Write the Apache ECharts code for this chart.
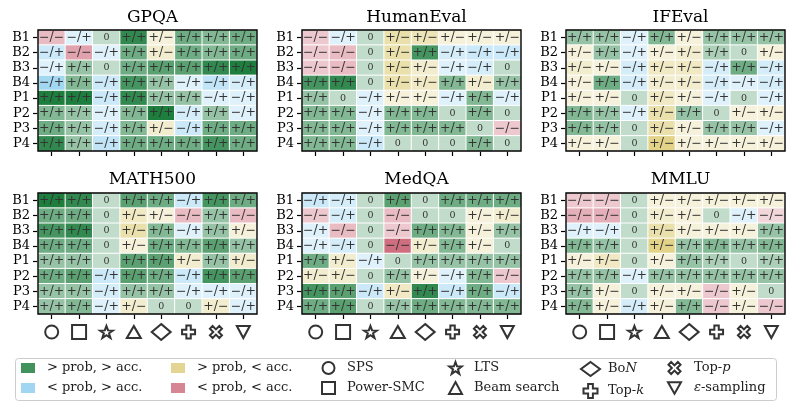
<!DOCTYPE html>
<html>
<head>
<meta charset="utf-8">
<script src="https://cdn.jsdelivr.net/npm/echarts@6/dist/echarts.min.js"></script>
<style>
  html, body { margin: 0; padding: 0; background: #fff; }
  #main { width: 792px; height: 408px; }
</style>
</head>
<body>
<div id="main"></div>
<script>
// categories
var methods = ['SPS', 'Power-SMC', 'LTS', 'Beam search', 'BoN', 'Top-k', 'Top-p', 'ε-sampling']
var settings = ['B1', 'B2', 'B3', 'B4', 'P1', 'P2', 'P3', 'P4']
var datasets = ['GPQA', 'HumanEval', 'IFEval', 'MATH500', 'MedQA', 'MMLU']

// sign of (prob / acc.) change per cell, rows = settings, cols = methods
var gpqaSign = [
  ['-/-', '-/+', '0', '+/+', '+/-', '+/+', '+/+', '+/+'],
  ['-/+', '-/-', '-/+', '+/+', '+/-', '+/+', '+/+', '+/+'],
  ['-/+', '+/+', '0', '+/+', '+/+', '+/+', '+/+', '+/+'],
  ['-/+', '+/+', '-/+', '+/+', '+/+', '-/+', '-/+', '-/+'],
  ['+/+', '+/+', '-/+', '+/+', '+/+', '+/+', '-/+', '-/+'],
  ['+/+', '+/+', '-/+', '+/+', '+/+', '-/+', '+/+', '-/+'],
  ['+/+', '+/+', '-/+', '+/+', '+/-', '-/+', '+/+', '+/+'],
  ['+/+', '+/+', '-/+', '+/+', '+/+', '+/+', '+/+', '+/+']
]
// strength of the change (shade), 0..5
var gpqaLevel = [
  [2, 1, 0, 4.5, 1, 3, 2.5, 3],
  [2, 3, 1, 3, 1.5, 3, 2.5, 3],
  [1, 2, 0, 3, 3.5, 3.5, 4.5, 5],
  [4, 2.5, 2, 4, 2, 1, 2.5, 1.5],
  [5, 5, 2, 4.5, 2, 2, 1, 1],
  [2.5, 2, 1, 2.5, 5, 1.5, 2, 1],
  [3, 2, 1.5, 2.5, 1.5, 2, 3, 3],
  [4.5, 2, 2.5, 3, 3, 3, 4, 3]
]

var humanevalSign = [
  ['-/-', '-/+', '0', '+/-', '+/-', '+/-', '+/-', '+/-'],
  ['-/-', '-/-', '0', '+/-', '+/+', '-/+', '-/+', '-/+'],
  ['-/-', '-/-', '0', '+/-', '+/-', '-/+', '-/+', '0'],
  ['+/+', '+/+', '0', '+/-', '+/-', '+/+', '+/-', '+/+'],
  ['+/+', '0', '-/+', '+/-', '+/-', '-/+', '+/+', '-/+'],
  ['+/+', '+/+', '-/+', '+/+', '+/+', '0', '+/+', '0'],
  ['+/+', '+/+', '-/+', '+/+', '+/+', '+/+', '0', '-/-'],
  ['+/+', '+/+', '-/+', '0', '0', '0', '+/+', '0']
]
var humanevalLevel = [
  [1.5, 1, 0, 3, 2.5, 1, 1, 1],
  [1.5, 2, 0, 3, 4, 1.5, 2, 2],
  [1.5, 2, 0, 3, 1.5, 1, 1.5, 0],
  [4, 4.5, 0, 3, 2, 2.5, 1.5, 2],
  [2, 0, 1, 1, 1, 1, 2.5, 1],
  [2.5, 2.5, 1, 2.5, 2.5, 0, 2.5, 0],
  [2.5, 2.5, 1, 2.5, 2.5, 2.5, 0, 1.5],
  [2.5, 2.5, 2, 0, 0, 0, 2.5, 0]
]

var ifevalSign = [
  ['+/+', '+/+', '-/+', '+/+', '+/-', '+/+', '+/+', '+/+'],
  ['+/-', '+/+', '-/+', '+/-', '+/-', '+/+', '0', '+/-'],
  ['+/-', '+/-', '-/+', '+/-', '+/-', '-/+', '+/+', '-/+'],
  ['+/-', '+/+', '-/+', '+/-', '+/-', '-/+', '-/+', '-/+'],
  ['+/-', '+/-', '0', '+/-', '+/-', '-/+', '0', '-/+'],
  ['+/+', '+/+', '-/+', '+/-', '+/+', '0', '+/-', '+/-'],
  ['+/+', '+/+', '0', '+/-', '+/-', '+/+', '+/+', '-/+'],
  ['+/-', '+/-', '0', '+/-', '+/-', '+/-', '+/-', '+/-']
]
var ifevalLevel = [
  [2, 2, 1, 2.5, 1, 2, 2, 2],
  [1, 2, 1, 1, 1.5, 1.5, 0, 1],
  [1.5, 1, 1.5, 2, 2, 1.5, 3, 1.5],
  [1, 3, 1.5, 1.5, 1.5, 1.5, 1, 1.5],
  [1, 1, 0, 2, 1, 1, 0, 1],
  [2.5, 2, 1, 3, 2, 0, 1, 1],
  [2.5, 2, 0, 3, 1, 2, 2, 1],
  [1, 1, 0, 4.5, 1, 1, 1, 1]
]

var mathSign = [
  ['+/+', '+/+', '0', '+/+', '+/+', '-/+', '+/+', '+/+'],
  ['+/+', '+/+', '0', '+/-', '+/-', '-/-', '+/+', '-/-'],
  ['+/+', '+/+', '0', '+/-', '+/+', '-/+', '+/+', '+/-'],
  ['+/+', '+/+', '0', '+/-', '+/+', '+/+', '+/+', '+/+'],
  ['+/+', '+/+', '0', '+/+', '+/+', '+/-', '+/+', '+/-'],
  ['+/+', '+/+', '-/+', '+/+', '+/+', '-/+', '+/+', '+/+'],
  ['+/+', '+/+', '-/+', '+/+', '+/+', '-/+', '-/+', '-/+'],
  ['+/+', '+/+', '-/+', '+/-', '0', '0', '+/-', '-/+']
]
var mathLevel = [
  [5, 4.5, 0, 3.5, 3, 2, 4, 3],
  [3, 3, 0, 2, 1, 2, 2, 2],
  [4, 4.5, 0, 3, 2.5, 1, 2, 1],
  [3, 3, 0, 1, 3, 2.5, 3.5, 2],
  [2, 2, 0, 3.5, 3.5, 1.5, 2, 1.5],
  [3, 3.5, 2, 3.5, 3, 2, 4, 3.5],
  [2, 2, 1.5, 2, 2, 1, 1, 1],
  [2, 2.5, 1, 1.5, 0, 0, 1.5, 1]
]

var medqaSign = [
  ['-/+', '-/+', '0', '+/+', '0', '+/+', '+/+', '+/+'],
  ['-/-', '-/+', '0', '-/-', '0', '0', '+/-', '+/-'],
  ['-/+', '-/-', '0', '-/-', '+/+', '+/+', '+/-', '+/+'],
  ['-/+', '-/+', '0', '-/-', '+/-', '+/+', '+/-', '0'],
  ['+/+', '+/-', '-/+', '0', '+/+', '+/+', '+/+', '+/+'],
  ['+/-', '+/-', '0', '+/+', '+/-', '-/+', '+/+', '-/-'],
  ['+/+', '+/+', '-/+', '+/-', '+/+', '-/+', '+/+', '-/+'],
  ['+/+', '+/+', '0', '+/+', '+/+', '+/+', '+/+', '+/+']
]
var medqaLevel = [
  [2, 1.5, 0, 3.5, 0, 3, 3, 3],
  [1.5, 1.5, 0, 2, 0, 0, 1, 1.5],
  [1, 2, 0, 1.5, 3, 2.5, 1, 2],
  [1, 1.5, 0, 5, 1.5, 2.5, 1, 0],
  [3, 1.5, 1, 0, 2, 2, 2, 2],
  [1.5, 1.5, 0, 2, 1, 1, 2.5, 1.5],
  [4, 3.5, 2, 2, 4.5, 2, 3, 2],
  [3, 3.5, 0, 2, 3, 2.5, 2.5, 2.5]
]

var mmluSign = [
  ['-/-', '-/-', '0', '+/-', '+/-', '+/-', '+/-', '+/-'],
  ['-/-', '-/-', '0', '+/-', '+/-', '0', '-/+', '-/-'],
  ['-/+', '-/+', '0', '+/-', '+/-', '+/-', '+/-', '+/+'],
  ['+/+', '+/+', '0', '+/-', '+/+', '+/+', '+/+', '+/+'],
  ['+/-', '+/-', '0', '+/-', '+/+', '+/+', '0', '+/+'],
  ['+/+', '+/+', '-/+', '+/+', '+/+', '+/+', '+/+', '+/+'],
  ['+/+', '+/-', '0', '+/-', '+/-', '-/-', '+/-', '0'],
  ['+/+', '+/-', '-/+', '+/-', '+/+', '-/-', '+/-', '-/-']
]
var mmluLevel = [
  [1.5, 1.5, 0, 1, 1, 1, 1, 1],
  [2.5, 2.5, 0, 1.5, 1, 0, 1, 1],
  [1, 1, 0, 3, 1, 1, 1, 2],
  [2.5, 2, 0, 4.5, 2, 2.5, 2, 2.5],
  [1, 2, 0, 1, 2, 1.5, 0, 1.5],
  [2, 2, 1, 2, 2, 2, 2, 2],
  [2, 1, 0, 1, 1, 1.5, 1, 0],
  [2.5, 1, 1.5, 1, 2.5, 1.5, 1, 1.5]
]

var signs = [gpqaSign, humanevalSign, ifevalSign, mathSign, medqaSign, mmluSign]
var levels = [gpqaLevel, humanevalLevel, ifevalLevel, mathLevel, medqaLevel, mmluLevel]

var SERIF = 'DejaVu Serif'
var baseColor = {
  '+/+': [17, 119, 51],
  '-/+': [136, 204, 238],
  '+/-': [221, 204, 119],
  '-/-': [204, 102, 119],
  '0': [17, 119, 51]
}
var legendNames = ['> prob, > acc.', '< prob, > acc.', '> prob, < acc.', '< prob, < acc.']
var legendKeys = ['+/+', '-/+', '+/-', '-/-']

// marker for each method (below the axes and in the legend)
var starPath = 'path://M50,2 L62,36 L98,37 L69,59 L80,95 L50,74 L20,95 L31,59 L2,37 L38,36 Z'
var plusPath = 'path://M33,0 H67 V33 H100 V67 H67 V100 H33 V67 H0 V33 H33 Z'
var crossPath = 'path://M22,0 L50,28 L78,0 L100,22 L72,50 L100,78 L78,100 L50,72 L22,100 L0,78 L28,50 L0,22 Z'
var downTri = 'path://M0,0 L100,0 L50,88 Z'
var methodSymbol = ['circle', 'rect', starPath, 'triangle', 'diamond', plusPath, crossPath, downTri]
var methodSymbolSize = [[13, 13], [14, 14], [13, 12], [14, 12], [19, 16], [13, 13], [12, 12], [13, 12]]

function cellColor(sign, level) {
  var c = baseColor[sign]
  var a = sign === '0' ? 0.26 : Math.min(0.95, 0.1 + level * 0.17)
  var mix = c.map(function(v) { return Math.round(255 - a * (255 - v)) })
  return 'rgb(' + mix.join(',') + ')'
}

var panelLeft = [38, 302, 566]
var panelTop = [30, 193]
var W = 219
var H = 121

var grids = []
var xAxes = []
var yAxes = []
var series = []
var titles = []

datasets.forEach(function(name, k) {
  var col = k % 3
  var row = Math.floor(k / 3)
  var left = panelLeft[col]
  var top = panelTop[row]
  grids.push({ left: left, top: top, width: W, height: H, show: true, borderColor: '#000', borderWidth: 1.4, z: 10 })
  xAxes.push({
    type: 'category', gridIndex: k, data: methods,
    axisLabel: { show: false, interval: 0 },
    axisLine: { show: false },
    axisTick: { show: true, interval: 0, alignWithLabel: true, length: 5, lineStyle: { color: '#000', width: 1.2 } },
    splitLine: { show: false }
  })
  yAxes.push({
    type: 'category', gridIndex: k, data: settings, inverse: true,
    axisLabel: { interval: 0, fontFamily: SERIF, fontSize: 13, color: '#000', margin: 8 },
    axisLine: { show: false },
    axisTick: { show: true, interval: 0, alignWithLabel: true, length: 5, lineStyle: { color: '#000', width: 1.2 } },
    splitLine: { show: false }
  })
  titles.push({
    text: name, left: left + W / 2, top: row ? 166 : 4, textAlign: 'center',
    textStyle: { fontFamily: SERIF, fontSize: 17, fontWeight: 'normal', color: '#000' }
  })
  var data = []
  for (var r = 0; r < settings.length; r++) {
    for (var c = 0; c < methods.length; c++) {
      var s = signs[k][r][c]
      data.push({
        value: [c, r, levels[k][r][c]],
        txt: s.replace(/-/g, '\u2212'),
        itemStyle: { color: cellColor(s, levels[k][r][c]) },
        label: { fontSize: s === '0' ? 9.5 : 12.5 }
      })
    }
  }
  series.push({
    type: 'heatmap', name: name, xAxisIndex: k, yAxisIndex: k, data: data,
    itemStyle: { borderColor: '#fff', borderWidth: 1 },
    label: {
      show: true, color: '#333', fontFamily: SERIF,
      formatter: function(p) { return p.data.txt }
    },
    emphasis: { disabled: true },
    silent: true
  })
})

// marker rows under the bottom panels
panelLeft.forEach(function(left, i) {
  var g = grids.length
  grids.push({ left: left, top: 324, width: W, height: 16 })
  xAxes.push({ type: 'category', gridIndex: g, data: methods, show: false })
  yAxes.push({ type: 'value', gridIndex: g, min: -1, max: 1, show: false })
  series.push({
    type: 'scatter', xAxisIndex: g, yAxisIndex: g, silent: true,
    itemStyle: { color: '#fff', borderColor: '#000', borderWidth: 2 },
    data: methods.map(function(m, j) {
      return { value: [j, 0], symbol: methodSymbol[j], symbolSize: methodSymbolSize[j] }
    })
  })
})

// dummy series for the legend
legendNames.forEach(function(n, i) {
  series.push({ type: 'scatter', name: n, xAxisIndex: 6, yAxisIndex: 6, data: [], itemStyle: { color: 'rgb(' + baseColor[legendKeys[i]].join(',') + ')' } })
})
methods.forEach(function(m, j) {
  series.push({
    type: 'scatter', name: m, xAxisIndex: 6, yAxisIndex: 6, data: [],
    symbol: methodSymbol[j],
    itemStyle: { color: '#fff', borderColor: '#000', borderWidth: 2 }
  })
})

var richName = {
  'BoN': 'Bo{i|N}',
  'Top-k': 'Top-{i|k}',
  'Top-p': 'Top-{i|p}',
  'ε-sampling': '{i|ε}-sampling'
}
function legendBlock(names, left, iconW, iconH, pad, icon) {
  return {
    orient: 'vertical', left: left, top: 361, height: 60, padding: 0, itemGap: 6,
    itemWidth: iconW, itemHeight: iconH, icon: icon,
    selectedMode: false,
    data: names,
    formatter: function(n) { return richName[n] || n },
    textStyle: {
      fontFamily: SERIF, fontSize: 13, color: '#222', lineHeight: 14, padding: [0, 0, 0, pad],
      rich: { i: { fontFamily: SERIF, fontSize: 13, lineHeight: 14, fontStyle: 'italic', color: '#222' } }
    }
  }
}

var option = {
  animation: false,
  title: titles,
  grid: grids,
  xAxis: xAxes,
  yAxis: yAxes,
  legend: [
    legendBlock([legendNames[0], legendNames[1]], 21, 14, 10, 7, 'rect'),
    legendBlock([legendNames[2], legendNames[3]], 171, 14, 10, 7, 'rect'),
    legendBlock(['SPS', 'Power-SMC'], 321, 13, 12, 7),
    legendBlock(['LTS', 'Beam search'], 448, 13, 12, 7),
    legendBlock(['BoN', 'Top-k'], 580, 19, 14, 3),
    legendBlock(['Top-p', 'ε-sampling'], 667, 13, 12, 8)
  ],
  graphic: [{
    type: 'rect', silent: true,
    shape: { x: 15.5, y: 358.5, width: 761, height: 42, r: 3 },
    style: { fill: 'none', stroke: '#ccc', lineWidth: 1 }
  }],
  series: series
}

var chart = echarts.init(document.getElementById('main'))
chart.setOption(option)
</script>
</body>
</html>
